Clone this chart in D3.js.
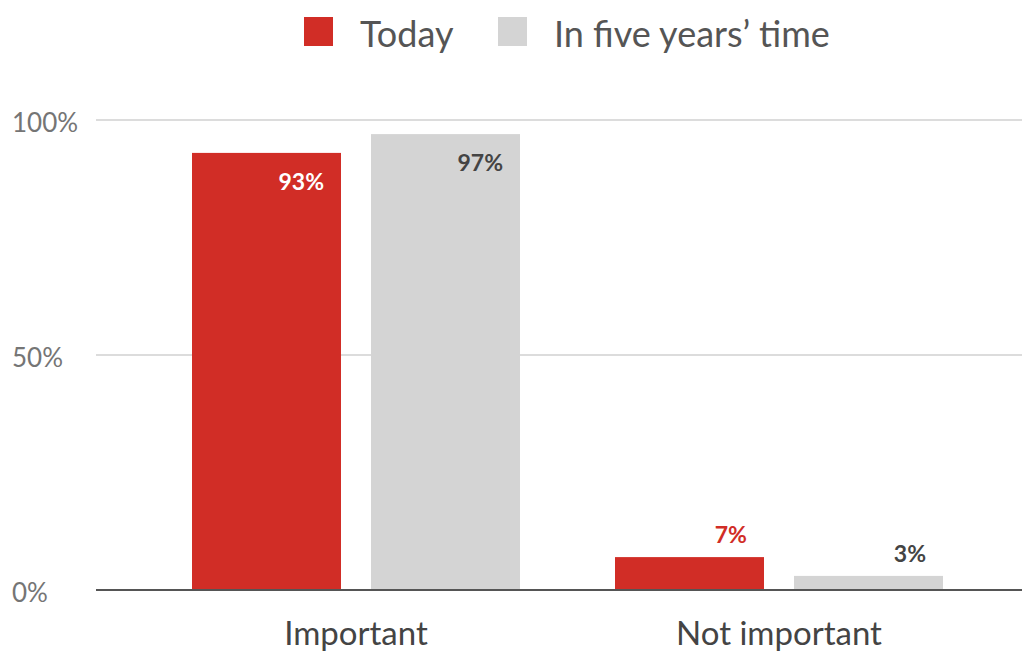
<!DOCTYPE html>
<html>
<head>
<meta charset="utf-8">
<script src="https://cdn.jsdelivr.net/npm/d3@7"></script>
<style>
  body { margin: 0; background: #fff; }
  svg { display: block; font-family: Lato, "Open Sans", sans-serif; }
</style>
</head>
<body>
<div id="chart"></div>
<script>
var svgWidth = 1022;
var svgHeight = 651;

// data
var categories = ["Important", "Not important"];
var seriesNames = ["Today", "In five years’ time"];
var today = [93, 7];
var fiveYears = [97, 3];
var yTicks = [0, 50, 100];

var colors = ["#d12d26", "#d4d4d4"];
var labelColors = ["#ffffff", "#444444"];
var outsideColors = ["#d12d26", "#444444"];

var svg = d3.select("#chart")
  .append("svg")
  .attr("width", svgWidth)
  .attr("height", svgHeight);

var plotLeft = 96;
var plotRight = 1022;

var y = d3.scaleLinear()
  .domain([0, 100])
  .range([590, 120]);

var x0 = d3.scaleBand()
  .domain(categories)
  .range([144.5, 990.5])
  .padding(0);

var x1 = d3.scaleBand()
  .domain(seriesNames)
  .range([0, 328])
  .paddingInner(0.1676)
  .paddingOuter(0);

var groupOffset = (x0.bandwidth() - 328) / 2;

// gridlines
svg.append("g")
  .selectAll("line")
  .data(yTicks.filter(d => d > 0))
  .enter()
  .append("line")
  .attr("x1", plotLeft)
  .attr("x2", plotRight)
  .attr("y1", d => y(d))
  .attr("y2", d => y(d))
  .attr("stroke", "#dcdcdc")
  .attr("stroke-width", 2);

// tick labels
svg.append("g")
  .selectAll("text")
  .data(yTicks)
  .enter()
  .append("text")
  .attr("x", 12)
  .attr("y", d => y(d) + 12)
  .attr("font-size", 26)
  .attr("fill", "#757575")
  .text(d => d + "%");

// build rows
var rows = [];
categories.forEach(function(c, i) {
  rows.push({ cat: c, s: 0, value: today[i] });
  rows.push({ cat: c, s: 1, value: fiveYears[i] });
});

var barX = d => x0(d.cat) + groupOffset + x1(seriesNames[d.s]);

svg.append("g")
  .selectAll("rect")
  .data(rows)
  .enter()
  .append("rect")
  .attr("x", barX)
  .attr("y", d => y(d.value))
  .attr("width", x1.bandwidth())
  .attr("height", d => y(0) - y(d.value))
  .attr("fill", d => colors[d.s]);

// value labels
svg.append("g")
  .selectAll("text")
  .data(rows)
  .enter()
  .append("text")
  .attr("x", d => barX(d) + x1.bandwidth() - 17)
  .attr("y", d => d.value > 20 ? y(d.value) + 37 : y(d.value) - 14)
  .attr("text-anchor", "end")
  .attr("font-size", 23)
  .attr("font-weight", "bold")
  .attr("fill", d => d.value > 20 ? labelColors[d.s] : outsideColors[d.s])
  .text(d => d.value + "%");

// baseline
svg.append("line")
  .attr("x1", plotLeft)
  .attr("x2", plotRight)
  .attr("y1", y(0))
  .attr("y2", y(0))
  .attr("stroke", "#555")
  .attr("stroke-width", 2);

// category labels
svg.append("g")
  .selectAll("text")
  .data(categories)
  .enter()
  .append("text")
  .attr("x", d => x0(d) + x0.bandwidth() / 2)
  .attr("y", 645)
  .attr("text-anchor", "middle")
  .attr("font-size", 33)
  .attr("fill", "#444")
  .text(d => d);

// legend
var legend = svg.append("g");
var legendX = [304, 498];
var legendTextX = [360, 554];

legend.selectAll("rect")
  .data(seriesNames)
  .enter()
  .append("rect")
  .attr("x", (d, i) => legendX[i])
  .attr("y", 17)
  .attr("width", 29)
  .attr("height", 29)
  .attr("fill", (d, i) => colors[i]);

legend.selectAll("text")
  .data(seriesNames)
  .enter()
  .append("text")
  .attr("x", (d, i) => legendTextX[i])
  .attr("y", 47)
  .attr("font-size", 36)
  .attr("fill", "#555")
  .text(d => d);
</script>
</body>
</html>
